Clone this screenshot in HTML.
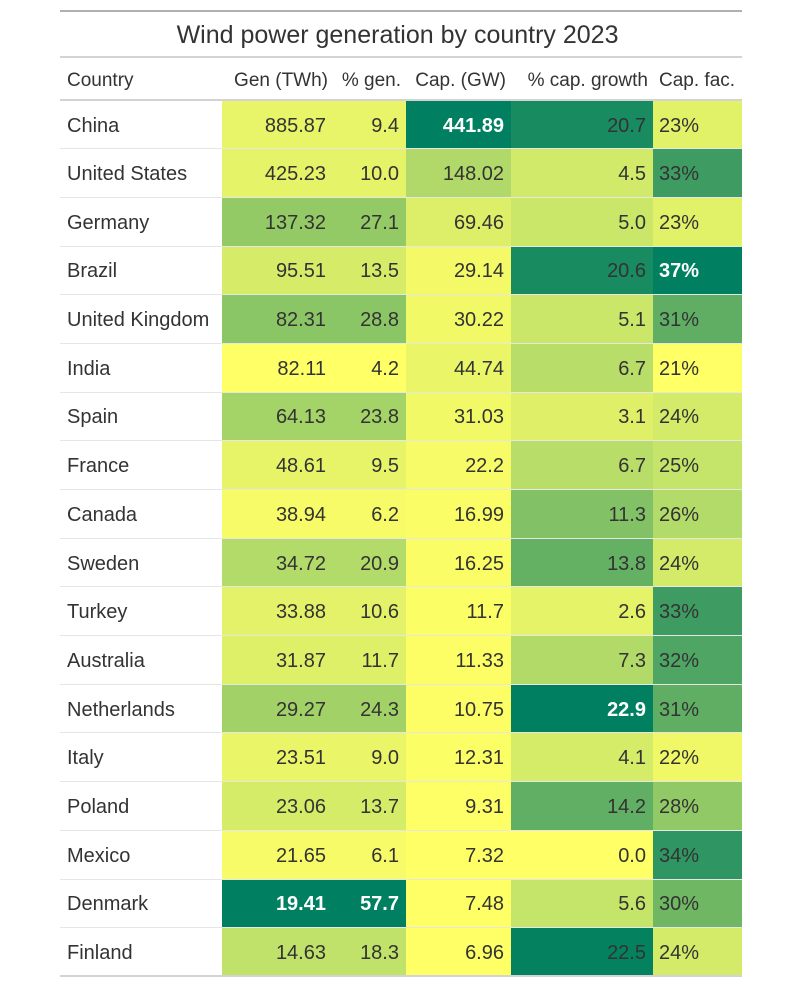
<!DOCTYPE html>
<html><head><meta charset="utf-8">
<style>
body{margin:0;background:#fff;width:802px;height:996px;overflow:hidden;font-family:"Liberation Sans",sans-serif;color:#333}
#wrap{position:absolute;left:60px;top:10px;width:682px}
table{border-collapse:collapse;width:682px;table-layout:fixed}
.title{border-top:2px solid #b0b0b0;border-bottom:2px solid #d3d3d3;height:46px;box-sizing:border-box;text-align:center;font-size:25px;color:#333;padding-top:2px}
th{font-weight:normal;font-size:19px;height:43px;box-sizing:border-box;text-align:right;padding:4px 5px 0 0;border-bottom:2px solid #d3d3d3;white-space:nowrap;overflow:visible}
th.l{text-align:left;padding-left:7px}
td{height:48.7px;box-sizing:border-box;font-size:20px;text-align:right;padding:3px 7px 0 0;border-top:1px solid #e6e6e6;white-space:nowrap}
td.l{text-align:left;padding-left:7px}
td.cf{text-align:left;padding-left:6px}
tr:last-child td{border-bottom:2px solid #d3d3d3}
td.max{color:#fff;font-weight:bold}
</style></head><body>
<div id="wrap">
<table id="t">
<colgroup><col style="width:162px"><col style="width:111px"><col style="width:73px"><col style="width:105px"><col style="width:142px"><col style="width:89px"></colgroup>
<tr><td colspan="6" class="title">Wind power generation by country 2023</td></tr>
<tr>
<th class="l">Country</th>
<th>Gen (TWh)</th>
<th>% gen.</th>
<th>Cap. (GW)</th>
<th>% cap. growth</th>
<th class="l" style="padding-left:6px">Cap. fac.</th>
</tr>
</table></div>
<script>
const countries=["China","United States","Germany","Brazil","United Kingdom","India","Spain","France","Canada","Sweden","Turkey","Australia","Netherlands","Italy","Poland","Mexico","Denmark","Finland"];
const gen=[885.87,425.23,137.32,95.51,82.31,82.11,64.13,48.61,38.94,34.72,33.88,31.87,29.27,23.51,23.06,21.65,19.41,14.63];
const pctGen=[9.4,10.0,27.1,13.5,28.8,4.2,23.8,9.5,6.2,20.9,10.6,11.7,24.3,9.0,13.7,6.1,57.7,18.3];
const cap=[441.89,148.02,69.46,29.14,30.22,44.74,31.03,22.2,16.99,16.25,11.7,11.33,10.75,12.31,9.31,7.32,7.48,6.96];
const capGrowth=[20.7,4.5,5.0,20.6,5.1,6.7,3.1,6.7,11.3,13.8,2.6,7.3,22.9,4.1,14.2,0.0,5.6,22.5];
const capFac=[23,33,23,37,31,21,24,25,26,24,33,32,31,22,28,34,30,24];
const stops=[[255,255,102],[196,228,106],[128,192,101],[62,156,98],[0,128,96]];
function col(v,arr){const mn=Math.min(...arr),mx=Math.max(...arr);let t=(v-mn)/(mx-mn)*4;let i=Math.min(3,Math.floor(t));let f=t-i;const a=stops[i],b=stops[i+1];return `rgb(${a.map((x,k)=>Math.round(x+(b[k]-x)*f)).join(',')})`;}
const tb=document.getElementById('t');
countries.forEach((c,i)=>{
 const tr=document.createElement('tr');
 
 
 const cells=[
  [c,null,null,'l','country'],
  [gen[i].toFixed(2),pctGen[i],pctGen,'','gen'],
  [pctGen[i].toFixed(1),pctGen[i],pctGen,'','pct-gen'],
  [String(cap[i]),cap[i],cap,'','cap'],
  [capGrowth[i].toFixed(1),capGrowth[i],capGrowth,'','cap-growth'],
  [capFac[i]+'%',capFac[i],capFac,'cf','cap-fac']];
 cells.forEach(([txt,v,arr,cls,nm])=>{
  const td=document.createElement('td');
  td.textContent=txt;
  
  
  if(cls)td.className=cls;
  if(arr){td.style.background=col(v,arr);if(v===Math.max(...arr))td.classList.add('max');}
  tr.appendChild(td);
 });
 tb.appendChild(tr);
});
</script>
</body></html>
